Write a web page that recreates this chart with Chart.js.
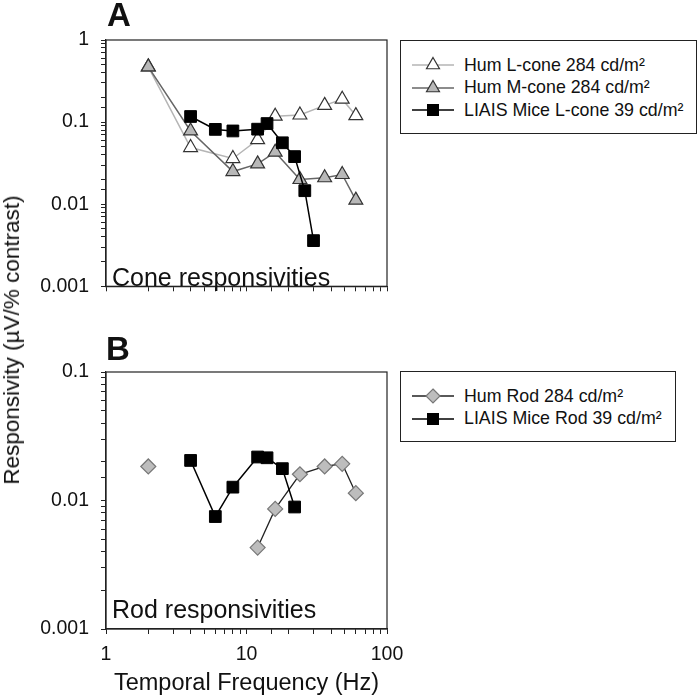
<!DOCTYPE html>
<html>
<head>
<meta charset="utf-8">
<script src="https://cdn.jsdelivr.net/npm/chart.js@4.4.0/dist/chart.umd.min.js"></script>
<style>
  body { margin: 0; background: #fff; font-family: "Liberation Sans", Arial, sans-serif; color: #111; }
  #figura { position: relative; width: 700px; height: 700px; overflow: hidden; }
  canvas { position: absolute; left: 0; }
  .letra { position: absolute; font-weight: bold; font-size: 33px; line-height: 1; }
  .rotulo { position: absolute; font-size: 25px; line-height: 1; white-space: nowrap; }
  .titulo-y { position: absolute; left: 12px; top: 340px; font-size: 22.5px; white-space: nowrap;
              transform: translate(-50%, -50%) rotate(-90deg); }
  .legenda { position: absolute; left: 400px; border: 1.3px solid #222; background: #fff;
             padding: 13px 13px 11px 11px; font-size: 17.8px; }
  .legenda div { height: 22.5px; display: flex; align-items: center; white-space: nowrap; }
  .legenda svg { margin-right: 10px; }
</style>
</head>
<body>
<div id="figura">
  <canvas id="painel-a" width="420" height="310" style="top:0"></canvas>
  <canvas id="painel-b" width="420" height="370" style="top:330px"></canvas>
  <div class="letra" style="left:107px; top:-2px">A</div>
  <div class="letra" style="left:106px; top:332px">B</div>
  <div class="rotulo" style="left:112px; top:265px">Cone responsivities</div>
  <div class="rotulo" style="left:112px; top:597px">Rod responsivities</div>
  <div class="titulo-y">Responsivity (µV/% contrast)</div>
  <div class="legenda" id="legenda-a" style="top:40px"></div>
  <div class="legenda" id="legenda-b" style="top:371px"></div>
</div>
<script>
// frequencias (Hz) e respostas
const freqHum = [2, 4, 8, 12, 16, 24, 36, 48, 60];
const humLCone = [0.47, 0.049, 0.036, 0.061, 0.118, 0.122, 0.16, 0.19, 0.12];
const humMCone = [0.47, 0.078, 0.025, 0.031, 0.043, 0.020, 0.021, 0.023, 0.0112];
const freqMiceCone = [4, 6, 8, 12, 14, 18, 22, 26, 30];
const miceLCone = [0.117, 0.0815, 0.078, 0.082, 0.096, 0.056, 0.038, 0.0146, 0.0036];

const humRod = [0.0184, null, null, 0.0043, 0.0086, 0.016, 0.0184, 0.0193, 0.0114];
const freqMiceRod = [4, 6, 8, 12, 14, 18, 22];
const miceRod = [0.0205, 0.0075, 0.0127, 0.0218, 0.0215, 0.0177, 0.0089];

const nomesCone = ['Hum L-cone 284 cd/m²', 'Hum M-cone 284 cd/m²', 'LIAIS Mice L-cone 39 cd/m²'];
const nomesRod = ['Hum Rod 284 cd/m²', 'LIAIS Mice Rod 39 cd/m²'];

Chart.defaults.font.family = '"Liberation Sans", Arial, sans-serif';
Chart.defaults.color = '#111';

function pares(xs, ys) {
    return xs.map((x, i) => ({ x: x, y: ys[i] }));
}

function soDecadas(valor) {
    const l = Math.log10(valor);
    return Math.abs(l - Math.round(l)) < 1e-6 ? String(valor) : '';
}

const caixa = {
    id: 'caixa',
    afterDraw(chart) {
        const { ctx, chartArea: a } = chart;
        ctx.save();
        ctx.strokeStyle = '#222';
        ctx.lineWidth = 1.2;
        ctx.strokeRect(a.left, a.top, a.right - a.left, a.bottom - a.top);
        ctx.restore();
    }
};

function opcoes(yMin, yMax, comRotulosX, alturaX, topo) {
    return {
        responsive: false,
        animation: false,
        layout: { padding: { top: topo, right: 33, left: 0, bottom: 0 } },
        plugins: { legend: { display: false }, tooltip: { enabled: false } },
        scales: {
            x: {
                type: 'logarithmic', min: 1, max: 100,
                grid: { drawOnChartArea: false, tickLength: 5, tickColor: '#222' },
                border: { color: '#222', width: 1.2 },
                ticks: {
                    autoSkip: false, maxRotation: 0, padding: 9,
                    font: { size: 19.5 },
                    callback: v => comRotulosX ? soDecadas(v) : ''
                },
                title: {
                    display: comRotulosX, text: 'Temporal Frequency (Hz)',
                    font: { size: 23.5 }, padding: { top: 0, bottom: 2 }
                },
                afterFit: s => { s.height = alturaX; }
            },
            y: {
                type: 'logarithmic', min: yMin, max: yMax,
                grid: { drawOnChartArea: false, tickLength: 5, tickColor: '#222' },
                border: { color: '#222', width: 1.2 },
                ticks: {
                    autoSkip: false, padding: 12,
                    font: { size: 19.5 },
                    callback: v => soDecadas(v)
                },
                afterFit: s => { s.width = 106; }
            }
        }
    };
}

function desenharLegenda(chart, id) {
    const caixaLegenda = document.getElementById(id);
    chart.data.datasets.forEach(ds => {
        const c = 9, m = 21;
        let marca = '';
        if (ds.pointStyle === 'triangle') {
            const r = 7.5;
            marca = `<polygon points="${m},${c - r} ${m + r * 0.866},${c + r / 2} ${m - r * 0.866},${c + r / 2}"`;
        } else if (ds.pointStyle === 'rect') {
            marca = `<rect x="${m - 5.5}" y="${c - 5.5}" width="11" height="11"`;
        } else {
            marca = `<polygon points="${m},${c - 7} ${m + 7},${c} ${m},${c + 7} ${m - 7},${c}"`;
        }
        marca += ` fill="${ds.pointBackgroundColor}" stroke="${ds.pointBorderColor}" stroke-width="${ds.pointBorderWidth}"/>`;
        const linha = document.createElement('div');
        linha.innerHTML = `<svg width="42" height="18"><line x1="0" y1="${c}" x2="42" y2="${c}" stroke="${ds.borderColor}" stroke-width="${ds.borderWidth}"/>${marca}</svg><span>${ds.label}</span>`;
        caixaLegenda.appendChild(linha);
    });
}

const graficoA = new Chart(document.getElementById('painel-a'), {
    type: 'line',
    data: {
        datasets: [{
            label: nomesCone[0],
            data: pares(freqHum, humLCone),
            borderColor: '#b5b5b5', borderWidth: 1.5,
            pointStyle: 'triangle', pointRadius: 8,
            pointBackgroundColor: '#ffffff', pointBorderColor: '#333', pointBorderWidth: 1.2,
            order: 2
        }, {
            label: nomesCone[1],
            data: pares(freqHum, humMCone),
            borderColor: '#666', borderWidth: 1.5,
            pointStyle: 'triangle', pointRadius: 8,
            pointBackgroundColor: '#b8b8b8', pointBorderColor: '#333', pointBorderWidth: 1.2,
            order: 1
        }, {
            label: nomesCone[2],
            data: pares(freqMiceCone, miceLCone),
            borderColor: '#000', borderWidth: 1.5,
            pointStyle: 'rect', pointRadius: 8.3,
            pointBackgroundColor: '#000', pointBorderColor: '#000', pointBorderWidth: 1,
            order: 0
        }]
    },
    options: opcoes(0.001, 1, false, 13, 40),
    plugins: [caixa]
});

const graficoB = new Chart(document.getElementById('painel-b'), {
    type: 'line',
    data: {
        datasets: [{
            label: nomesRod[0],
            data: pares(freqHum, humRod),
            borderColor: '#222', borderWidth: 1.3,
            pointStyle: 'rectRot', pointRadius: 7.5,
            pointBackgroundColor: '#bdbdbd', pointBorderColor: '#777', pointBorderWidth: 1.2,
            order: 1
        }, {
            label: nomesRod[1],
            data: pares(freqMiceRod, miceRod),
            borderColor: '#000', borderWidth: 1.5,
            pointStyle: 'rect', pointRadius: 8.3,
            pointBackgroundColor: '#000', pointBorderColor: '#000', pointBorderWidth: 1,
            order: 0
        }]
    },
    options: opcoes(0.001, 0.1, true, 71, 42),
    plugins: [caixa]
});

desenharLegenda(graficoA, 'legenda-a');
desenharLegenda(graficoB, 'legenda-b');
</script>
</body>
</html>
